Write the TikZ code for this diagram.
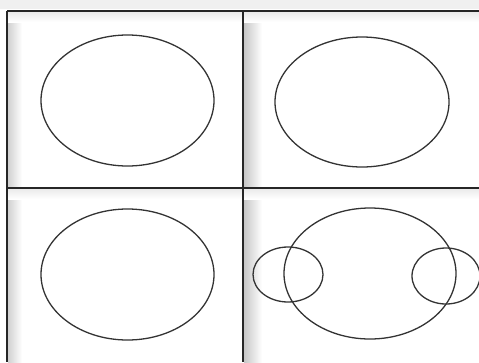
\documentclass[tikz,border=0pt]{standalone}
\begin{document}
\begin{tikzpicture}[x=1pt,y=-1pt,
  gridline/.style={draw=black!85,line width=1.6pt},
  oval/.style={draw=black!80,line width=1.3pt}]
\useasboundingbox (0,0) rectangle (479,362);
% faint background tones
\fill[black!6] (0,0) rectangle (479,9);
\shade[left color=black!18,right color=white] (8,12) rectangle (22,362);
\shade[left color=black!22,right color=white] (244,12) rectangle (262,362);
\shade[top color=black!8,bottom color=white] (8,12) rectangle (479,22);
\shade[top color=black!8,bottom color=white] (8,189) rectangle (479,199);
% grid
\draw[gridline] (7,11) -- (479,11);
\draw[gridline] (7,188) -- (479,188);
\draw[gridline] (7,11) -- (7,362);
\draw[gridline] (243,11) -- (243,362);
% ellipses
\draw[oval] (127.5,100.5) ellipse [x radius=86.5, y radius=65.5];
\draw[oval] (362,102) ellipse [x radius=87, y radius=65];
\draw[oval] (127.5,274.5) ellipse [x radius=86.5, y radius=65.5];
\draw[oval] (370,273.5) ellipse [x radius=86, y radius=65.5];
\draw[oval] (288,274.5) ellipse [x radius=35, y radius=27.5];
\draw[oval] (446,276) ellipse [x radius=34, y radius=28];
\end{tikzpicture}
\end{document}
